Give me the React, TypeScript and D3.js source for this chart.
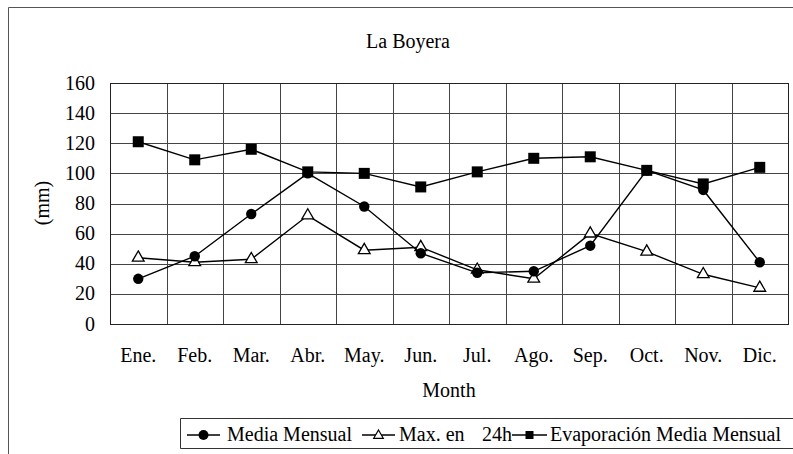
import { useEffect, useRef } from 'react';
import * as d3 from 'd3';

const months = ['Ene.', 'Feb.', 'Mar.', 'Abr.', 'May.', 'Jun.', 'Jul.', 'Ago.', 'Sep.', 'Oct.', 'Nov.', 'Dic.'];
const mediaMensual = [30, 45, 73, 100, 78, 47, 34, 35, 52, 102, 89, 41];
const max24h = [44, 41, 43, 72, 49, 51, 36, 30, 60, 48, 33, 24];
const evaporacion = [121, 109, 116, 101, 100, 91, 101, 110, 111, 102, 93, 104];
const yTicks = [0, 20, 40, 60, 80, 100, 120, 140, 160];

const W = 793;
const H = 454;
const FONT = '"Liberation Serif", "Times New Roman", serif';
const FS = 20;

export default function App() {
  const ref = useRef<SVGSVGElement | null>(null);

  useEffect(() => {
    const svg = d3.select(ref.current);
    svg.selectAll('*').remove();

    const left = 110;
    const right = 788;
    const top = 83;
    const bottom = 324;

    const x = d3.scaleBand<string>().domain(months).range([left, right]);
    const y = d3.scaleLinear().domain([0, 160]).range([bottom, top]);
    const cx = (m: string) => (x(m) ?? 0) + x.bandwidth() / 2;

    // outer frame
    svg.append('path')
      .attr('d', `M8.5,${H} L8.5,7.5 L${W},7.5`)
      .attr('fill', 'none')
      .attr('stroke', '#555')
      .attr('stroke-width', 1);

    svg.append('text')
      .attr('x', 408)
      .attr('y', 48)
      .attr('text-anchor', 'middle')
      .attr('font-family', FONT)
      .attr('font-size', FS)
      .text('La Boyera');

    // grid
    const grid = svg.append('g').attr('stroke', '#444').attr('stroke-width', 1);
    grid.selectAll('line.h')
      .data(yTicks.slice(1))
      .enter()
      .append('line')
      .attr('x1', left)
      .attr('x2', right)
      .attr('y1', d => Math.round(y(d)) + 0.5)
      .attr('y2', d => Math.round(y(d)) + 0.5);
    grid.selectAll('line.v')
      .data(months.slice(1))
      .enter()
      .append('line')
      .attr('x1', d => Math.round(x(d) ?? 0) + 0.5)
      .attr('x2', d => Math.round(x(d) ?? 0) + 0.5)
      .attr('y1', top)
      .attr('y2', bottom);

    svg.append('rect')
      .attr('x', left + 0.5)
      .attr('y', top + 0.5)
      .attr('width', right - left)
      .attr('height', bottom - top)
      .attr('fill', 'none')
      .attr('stroke', '#222')
      .attr('stroke-width', 1);

    // y axis labels
    svg.append('g')
      .selectAll('text')
      .data(yTicks)
      .enter()
      .append('text')
      .attr('x', left - 15)
      .attr('y', d => y(d) + 6.5)
      .attr('text-anchor', 'end')
      .attr('font-family', FONT)
      .attr('font-size', FS)
      .text(d => d);

    // x axis labels
    svg.append('g')
      .selectAll('text')
      .data(months)
      .enter()
      .append('text')
      .attr('x', d => cx(d))
      .attr('y', 362)
      .attr('text-anchor', 'middle')
      .attr('font-family', FONT)
      .attr('font-size', FS)
      .text(d => d);

    svg.append('text')
      .attr('x', 449)
      .attr('y', 397)
      .attr('text-anchor', 'middle')
      .attr('font-family', FONT)
      .attr('font-size', FS)
      .text('Month');

    svg.append('text')
      .attr('transform', `translate(49, 203) rotate(-90)`)
      .attr('text-anchor', 'middle')
      .attr('font-family', FONT)
      .attr('font-size', FS)
      .text('(mm)');

    const line = d3.line<number>()
      .x((_, i) => cx(months[i]))
      .y(d => y(d));

    const tri = d3.symbol().type(d3.symbolTriangle).size(60);

    const series = [
      { data: evaporacion, marker: 'square' },
      { data: max24h, marker: 'triangle' },
      { data: mediaMensual, marker: 'circle' },
    ];

    series.forEach(s => {
      svg.append('path')
        .datum(s.data)
        .attr('d', line)
        .attr('fill', 'none')
        .attr('stroke', '#000')
        .attr('stroke-width', 1.4);

      const g = svg.append('g');
      const pts = g.selectAll('g').data(s.data).enter().append('g')
        .attr('transform', (d, i) => `translate(${cx(months[i])},${y(d)})`);
      if (s.marker === 'circle') {
        pts.append('circle').attr('r', 5.2).attr('fill', '#000');
      } else if (s.marker === 'square') {
        pts.append('rect').attr('x', -5.5).attr('y', -5.5).attr('width', 11).attr('height', 11).attr('fill', '#000');
      } else {
        pts.append('path').attr('d', tri).attr('fill', '#fff').attr('stroke', '#000').attr('stroke-width', 1.3);
      }
    });

    // legend
    const lg = svg.append('g');
    lg.append('path')
      .attr('d', `M${W},418.5 L180.5,418.5 L180.5,448.5 L${W},448.5`)
      .attr('fill', 'none')
      .attr('stroke', '#333')
      .attr('stroke-width', 1);

    const legendItems = [
      { label: 'Media Mensual', marker: 'circle', x0: 187, x1: 220, tx: 227 },
      { label: 'Max. en', marker: 'triangle', x0: 362, x1: 395, tx: 399 },
      { label: 'Evaporación Media Mensual', marker: 'square', x0: 512, x1: 547, tx: 550 },
    ];
    const ly = 435;
    legendItems.forEach(it => {
      lg.append('line')
        .attr('x1', it.x0).attr('x2', it.x1)
        .attr('y1', ly).attr('y2', ly)
        .attr('stroke', '#000').attr('stroke-width', 1.4);
      const m = (it.x0 + it.x1) / 2;
      if (it.marker === 'circle') {
        lg.append('circle').attr('cx', m).attr('cy', ly).attr('r', 5).attr('fill', '#000');
      } else if (it.marker === 'square') {
        lg.append('rect').attr('x', m - 4).attr('y', ly - 4).attr('width', 8).attr('height', 8).attr('fill', '#000');
      } else {
        lg.append('path').attr('transform', `translate(${m},${ly + 0.5})`)
          .attr('d', d3.symbol().type(d3.symbolTriangle).size(40))
          .attr('fill', '#fff').attr('stroke', '#000').attr('stroke-width', 1.2);
      }
      lg.append('text')
        .attr('x', it.tx)
        .attr('y', 441)
        .attr('font-family', FONT)
        .attr('font-size', FS)
        .text(it.label);
    });
    lg.append('text')
      .attr('x', 482)
      .attr('y', 441)
      .attr('font-family', FONT)
      .attr('font-size', FS)
      .text('24h');
  }, []);

  return (
    <svg
      ref={ref}
      width={W}
      height={H}
      style={{ position: 'absolute', left: 0, top: 0, background: '#fff' }}
    ></svg>
  );
}
